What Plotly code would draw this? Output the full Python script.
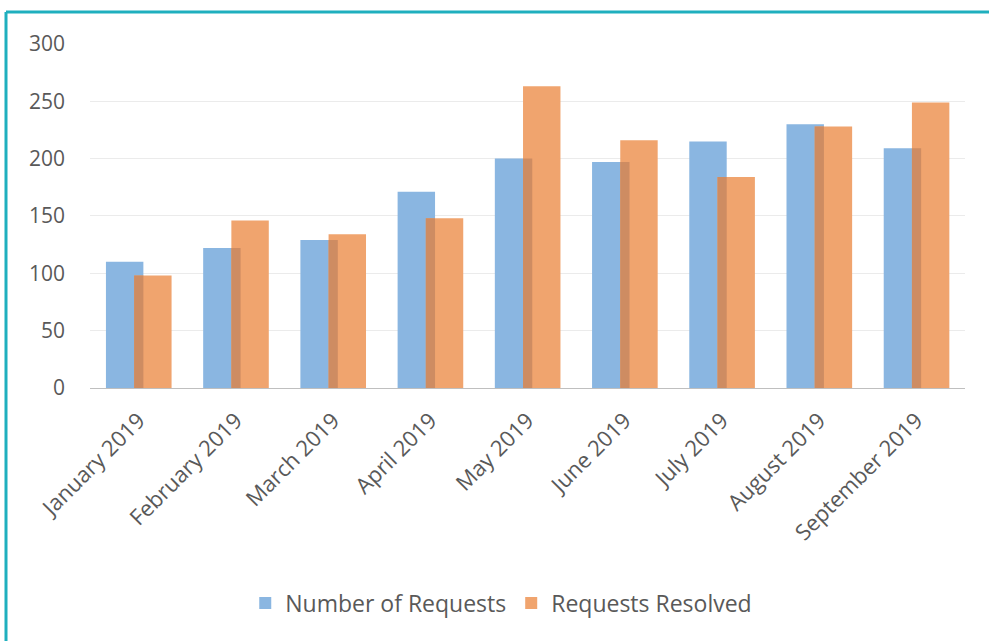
import plotly.graph_objects as go

months = ["January 2019", "February 2019", "March 2019", "April 2019", "May 2019",
          "June 2019", "July 2019", "August 2019", "September 2019"]
requests = [110, 122, 129, 171, 200, 197, 215, 230, 209]
resolved = [98, 146, 134, 148, 263, 216, 184, 228, 249]
overlap = [min(a, b) for a, b in zip(requests, resolved)]

BLUE = "#8AB6E1"
ORANGE = "#F0A46E"
DARK = "#CE8C62"
TXT = "#595959"
FONT = "Open Sans"

W = 0.385
OFF_B = -0.336
OFF_O = -0.046
fig = go.Figure()
fig.add_trace(go.Bar(x=months, y=requests, name="Number of Requests",
                     marker=dict(color=BLUE, line=dict(width=0)),
                     width=W, offset=OFF_B))
fig.add_trace(go.Bar(x=months, y=resolved, name="Requests Resolved",
                     marker=dict(color=ORANGE, line=dict(width=0)),
                     width=W, offset=OFF_O))
fig.add_trace(go.Bar(x=months, y=overlap, showlegend=False, hoverinfo="skip",
                     marker=dict(color=DARK, line=dict(width=0)),
                     width=OFF_B + W - OFF_O, offset=OFF_O))

fig.update_layout(
    barmode="overlay",
    width=989, height=641,
    margin=dict(l=90, r=24, t=43, b=253),
    paper_bgcolor="white", plot_bgcolor="white",
    font=dict(family=FONT, size=21, color=TXT),
    showlegend=True,
    legend=dict(orientation="h", x=0.470, xanchor="center", y=-0.623, yanchor="middle",
                font=dict(family=FONT, size=23, color=TXT),
                traceorder="normal", itemwidth=30),
    xaxis=dict(tickangle=-45, showgrid=False, showline=True, linecolor="#BFBFBF",
               linewidth=1, ticks="", ticklabelstandoff=10,
               tickfont=dict(family=FONT, size=22, color=TXT),
               range=[-0.5, 8.5]),
    yaxis=dict(range=[0, 300.8], tickvals=[0, 50, 100, 150, 200, 250, 300],
               showgrid=True, gridcolor="#EBEBEB",
               gridwidth=1, zeroline=True, zerolinecolor="#BFBFBF", zerolinewidth=1,
               ticks="", ticklabelstandoff=24,
               tickfont=dict(family=FONT, size=21, color=TXT)),
    shapes=[
        dict(type="line", xref="paper", yref="paper",
             x0=(6 - 90) / 875, x1=(989 - 90) / 875,
             y0=(388 - 12) / 345, y1=(388 - 12) / 345,
             line=dict(color="#1FAFBE", width=3)),
        dict(type="line", xref="paper", yref="paper",
             x0=(6 - 90) / 875, x1=(6 - 90) / 875,
             y0=(388 - 12) / 345, y1=(388 - 641) / 345,
             line=dict(color="#1FAFBE", width=3)),
    ],
)

fig.write_html("out.html", config={"displayModeBar": False},
               post_script="document.body.style.margin='0';document.body.style.overflow='hidden';")
